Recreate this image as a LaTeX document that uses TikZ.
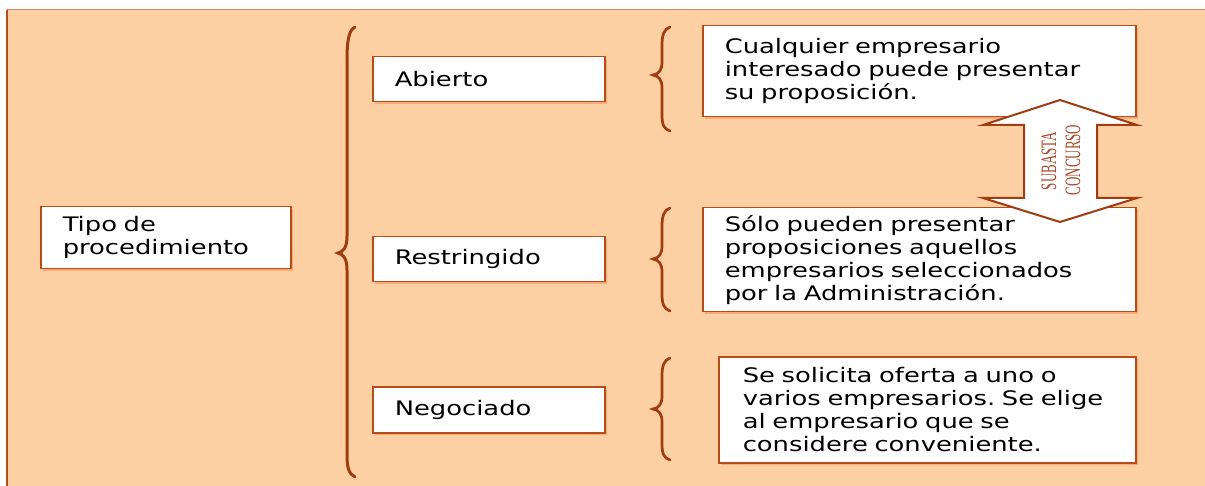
\documentclass[tikz,border=0pt]{standalone}
\usepackage{fontspec}
\setmainfont{DejaVu Sans}[FakeStretch=1.29]
\newfontfamily\fuentecond{Liberation Serif}[FakeStretch=0.59]
\usetikzlibrary{shadows}
\frenchspacing
\definecolor{fondo}{RGB}{253,208,163}
\definecolor{borde}{RGB}{185,75,25}
\definecolor{marron}{RGB}{160,60,15}
\definecolor{sombra}{RGB}{250,170,120}
\definecolor{orla}{RGB}{205,130,100}
\definecolor{rojizo}{RGB}{170,70,40}
\tikzset{
  caja/.style={draw=borde, line width=1.5pt, fill=white, anchor=north west,
    align=left, inner xsep=22pt, inner ysep=0pt,
    font=\fontsize{20}{23}\selectfont,
    drop shadow={shadow xshift=2.5pt, shadow yshift=-2.5pt, fill=sombra, opacity=1}},
  llave/.style={draw=marron, line width=2.7pt, line cap=round},
  flecha/.style={draw=marron, fill=white, line width=2pt},
  vertical/.style={rotate=90, text=rojizo, inner sep=0pt,
    font=\fuentecond\fontsize{22}{22}\selectfont},
}
\begin{document}
\begin{tikzpicture}[x=1pt,y=-1pt]
	\useasboundingbox (0,0) rectangle (1205,486);
	\fill[fondo] (7,10) rectangle (1205,486);
	\draw[orla,line width=1pt] (1205,10)--(7,10);
	\draw[borde,line width=2pt] (7,10)--(7,486);
	% tipo y clases
	\node[caja,minimum height=62pt,text width=206pt] (tipo) at (40,206) {Tipo de\\procedimiento};
	\node[caja,minimum height=45pt,text width=188pt] (abierto) at (372,56) {Abierto};
	\node[caja,minimum height=45pt,text width=188pt] (restr) at (372,236) {Restringido};
	\node[caja,minimum height=46pt,text width=188pt] (negoc) at (372,386) {Negociado};
	% llave grande
	\draw[llave,line width=3pt] (355,27) .. controls (349,30) and (347,40) .. (347,60)
		-- (347,236) .. controls (347,248) and (343,252) .. (338,253)
		.. controls (343,254) and (347,258) .. (347,270)
		-- (347,455) .. controls (347,468) and (349,474) .. (355,477);
	% llaves pequenas
	\draw[llave] (670,27) .. controls (664,29) and (662,35) .. (662,45)
		-- (662,62) .. controls (662,70) and (659,74) .. (653,75)
		.. controls (659,76) and (662,80) .. (662,88)
		-- (662,115) .. controls (662,125) and (664,129) .. (670,131);
	\draw[llave] (670,208) .. controls (664,210) and (662,216) .. (662,226)
		-- (662,246) .. controls (662,254) and (659,258) .. (653,259)
		.. controls (659,260) and (662,264) .. (662,272)
		-- (662,294) .. controls (662,304) and (664,309) .. (670,311);
	\draw[llave] (670,358) .. controls (664,360) and (662,366) .. (662,376)
		-- (662,396) .. controls (662,404) and (659,408) .. (653,409)
		.. controls (659,410) and (662,414) .. (662,422)
		-- (662,444) .. controls (662,454) and (664,458) .. (670,460);
	% descripciones
	\node[caja,minimum height=91pt,text width=389pt] (dabierto) at (702,25) {Cualquier empresario\\interesado puede presentar\\su proposición.};
	\node[caja,minimum height=104pt,text width=389pt] (drestr) at (702,207) {Sólo pueden presentar\\proposiciones aquellos\\empresarios seleccionados\\por la Administración.};
	\node[caja,minimum height=106pt,text width=369pt,inner xsep=24pt] (dnegoc) at (718,356) {Se solicita oferta a uno o\\varios empresarios. Se elige\\al empresario que se\\considere conveniente.};
	% flecha doble
	\draw[flecha] (1060,100)--(1137,125)--(1097,125)--(1097,198)--(1137,198)--(1060,222)
		--(983,198)--(1024,198)--(1024,125)--(983,125)--cycle;
	\node[vertical] (subasta) at (1049,161) {SUBASTA};
	\node[vertical] (concurso) at (1073,160) {CONCURSO};
\end{tikzpicture}
\end{document}
